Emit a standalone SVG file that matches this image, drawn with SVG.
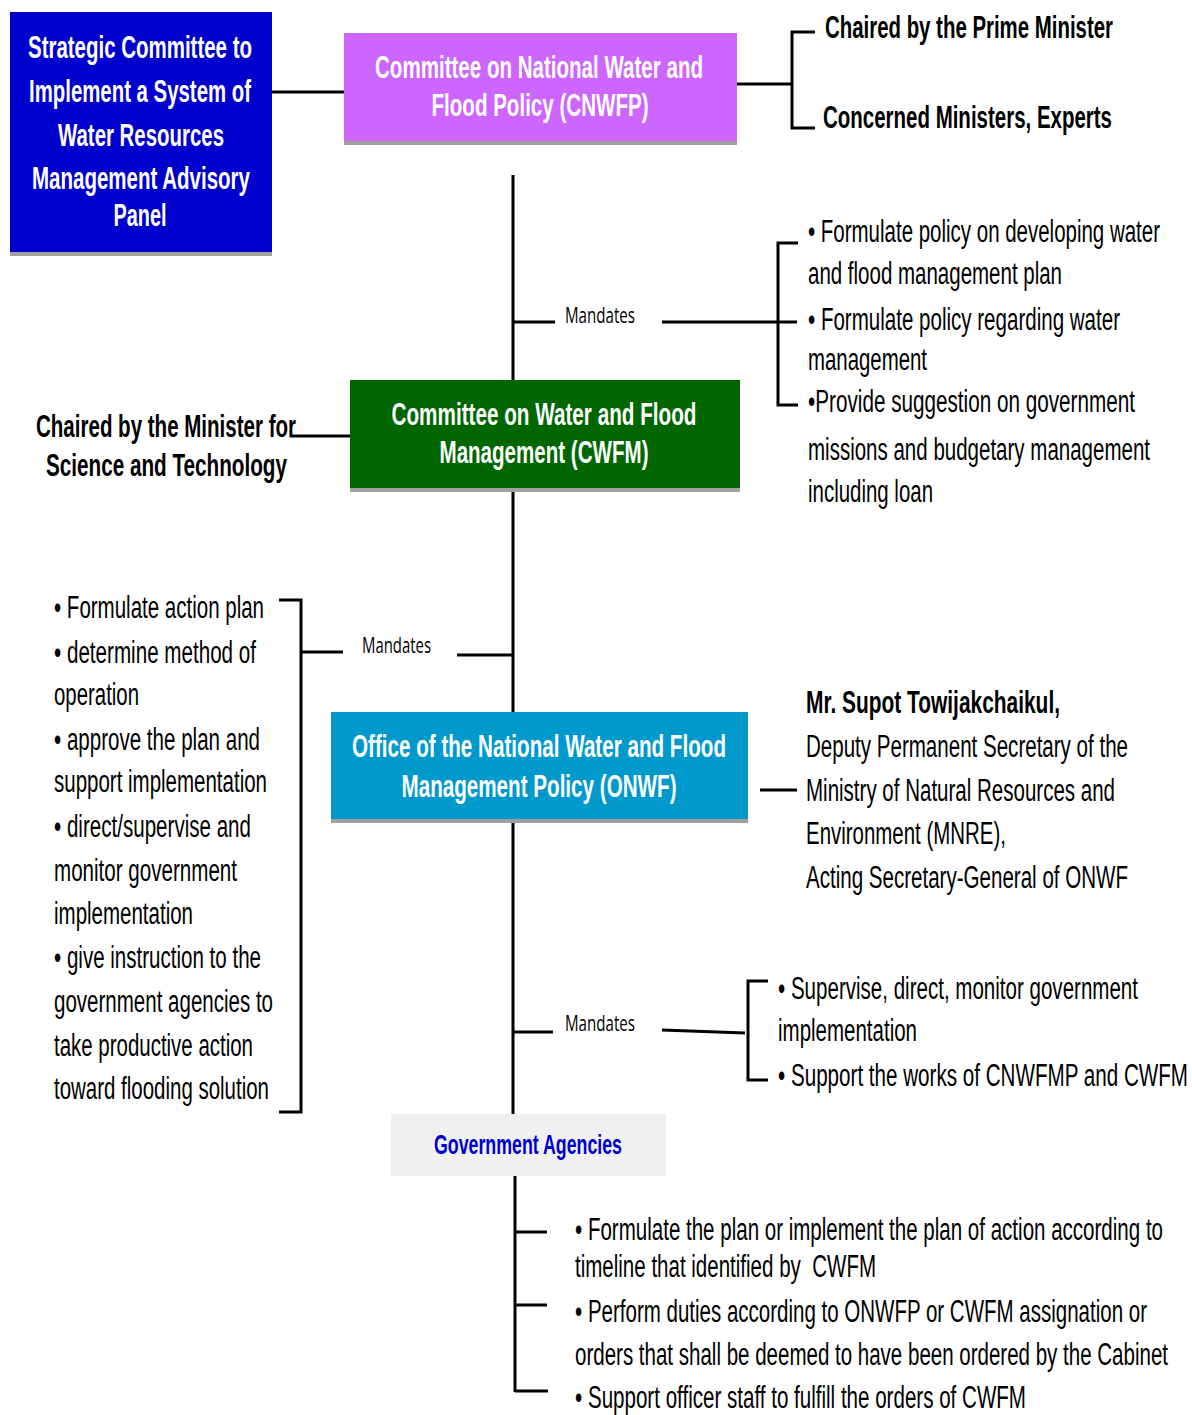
<svg xmlns="http://www.w3.org/2000/svg" width="1192" height="1415" viewBox="0 0 1192 1415">
<style>
text { font-family: "Liberation Sans Narrow", "Liberation Sans", Arial, sans-serif; white-space: pre; }
.n { font-size: 31px; fill: #000; }
.nb { font-size: 32px; fill: #000; font-weight: bold; }
.w { font-size: 32px; fill: #fff; font-weight: bold; }
.m { font-family: "Open Sans", "Liberation Sans Narrow", sans-serif; font-size: 21px; fill: #000; }
.ga { font-size: 28px; fill: #0000CC; font-weight: bold; }
.ln { stroke: #000; stroke-width: 3; fill: none; }
.sh { fill: #A0A0A0; }
</style>
<rect width="1192" height="1415" fill="#fff"/>
<g id="connectors">
  <line class="ln" x1="272" y1="92" x2="344" y2="92"/>
  <line class="ln" x1="737" y1="84" x2="792" y2="84"/>
  <polyline class="ln" points="815,32 792,32 792,128 815,128"/>
  <line class="ln" x1="513" y1="175" x2="513" y2="1114"/>
  <line class="ln" x1="513" y1="322" x2="555" y2="322"/>
  <line class="ln" x1="662" y1="322" x2="797" y2="322"/>
  <polyline class="ln" points="798,243 778,243 778,405 798,405"/>
  <line class="ln" x1="290" y1="436" x2="350" y2="436"/>
  <line class="ln" x1="457" y1="655" x2="513" y2="655"/>
  <line class="ln" x1="302" y1="652" x2="343" y2="652"/>
  <polyline class="ln" points="279,600 301,600 301,1112 279,1112"/>
  <line class="ln" x1="760" y1="790" x2="797" y2="790"/>
  <line class="ln" x1="513" y1="1032" x2="553" y2="1032"/>
  <line class="ln" x1="662" y1="1030" x2="745" y2="1033"/>
  <polyline class="ln" points="768,981 748,981 748,1080 768,1080"/>
  <line class="ln" x1="515" y1="1176" x2="515" y2="1392"/>
  <line class="ln" x1="515" y1="1232" x2="547" y2="1232"/>
  <line class="ln" x1="515" y1="1305" x2="547" y2="1305"/>
  <line class="ln" x1="515" y1="1391" x2="548" y2="1391"/>
  <text class="m" x="565" y="323" textLength="70" lengthAdjust="spacingAndGlyphs">Mandates</text>
  <text class="m" x="362" y="653" textLength="69" lengthAdjust="spacingAndGlyphs">Mandates</text>
  <text class="m" x="565" y="1031" textLength="70" lengthAdjust="spacingAndGlyphs">Mandates</text>
</g>
<g id="strategic-committee">
  <rect class="sh" x="10" y="250" width="262" height="6"/>
  <rect x="10" y="12" width="262" height="240" fill="#0000CC"/>
  <text class="w" x="140" y="58" text-anchor="middle" textLength="224" lengthAdjust="spacingAndGlyphs">Strategic Committee to</text>
  <text class="w" x="140" y="102" text-anchor="middle" textLength="222" lengthAdjust="spacingAndGlyphs">Implement a System of</text>
  <text class="w" x="141" y="146" text-anchor="middle" textLength="166" lengthAdjust="spacingAndGlyphs">Water Resources</text>
  <text class="w" x="141" y="189" text-anchor="middle" textLength="218" lengthAdjust="spacingAndGlyphs">Management Advisory</text>
  <text class="w" x="140" y="226" text-anchor="middle" textLength="53" lengthAdjust="spacingAndGlyphs">Panel</text>
</g>
<g id="cnwfp">
  <rect class="sh" x="344" y="139" width="393" height="6"/>
  <rect x="344" y="33" width="393" height="108" fill="#CC66FF"/>
  <text class="w" x="539" y="78" text-anchor="middle" textLength="328" lengthAdjust="spacingAndGlyphs">Committee on National Water and</text>
  <text class="w" x="540" y="116" text-anchor="middle" textLength="217" lengthAdjust="spacingAndGlyphs">Flood Policy (CNWFP)</text>
</g>
<g id="cnwfp-chair">
  <text class="nb" x="825" y="38" textLength="288" lengthAdjust="spacingAndGlyphs">Chaired by the Prime Minister</text>
  <text class="nb" x="823" y="128" textLength="289" lengthAdjust="spacingAndGlyphs">Concerned Ministers, Experts</text>
</g>
<g id="cnwfp-mandates">
  <text class="n" x="808" y="242" textLength="352" lengthAdjust="spacingAndGlyphs">• Formulate policy on developing water</text>
  <text class="n" x="808" y="284" textLength="254" lengthAdjust="spacingAndGlyphs">and flood management plan</text>
  <text class="n" x="808" y="330" textLength="312" lengthAdjust="spacingAndGlyphs">• Formulate policy regarding water</text>
  <text class="n" x="808" y="370" textLength="119" lengthAdjust="spacingAndGlyphs">management</text>
  <text class="n" x="808" y="412" textLength="327" lengthAdjust="spacingAndGlyphs">•Provide suggestion on government</text>
  <text class="n" x="808" y="460" textLength="342" lengthAdjust="spacingAndGlyphs">missions and budgetary management</text>
  <text class="n" x="808" y="502" textLength="125" lengthAdjust="spacingAndGlyphs">including loan</text>
</g>
<g id="cwfm">
  <rect class="sh" x="350" y="486" width="390" height="6"/>
  <rect x="350" y="380" width="390" height="108" fill="#006600"/>
  <text class="w" x="544" y="425" text-anchor="middle" textLength="305" lengthAdjust="spacingAndGlyphs">Committee on Water and Flood</text>
  <text class="w" x="544" y="463" text-anchor="middle" textLength="209" lengthAdjust="spacingAndGlyphs">Management (CWFM)</text>
</g>
<g id="cwfm-chair">
  <text class="nb" x="36" y="437" textLength="260" lengthAdjust="spacingAndGlyphs">Chaired by the Minister for</text>
  <text class="nb" x="46" y="476" textLength="241" lengthAdjust="spacingAndGlyphs">Science and Technology</text>
</g>
<g id="cwfm-mandates">
  <text class="n" x="54" y="618" textLength="210" lengthAdjust="spacingAndGlyphs">• Formulate action plan</text>
  <text class="n" x="54" y="663" textLength="202" lengthAdjust="spacingAndGlyphs">• determine method of</text>
  <text class="n" x="54" y="705" textLength="85" lengthAdjust="spacingAndGlyphs">operation</text>
  <text class="n" x="54" y="750" textLength="206" lengthAdjust="spacingAndGlyphs">• approve the plan and</text>
  <text class="n" x="54" y="792" textLength="213" lengthAdjust="spacingAndGlyphs">support implementation</text>
  <text class="n" x="54" y="837" textLength="197" lengthAdjust="spacingAndGlyphs">• direct/supervise and</text>
  <text class="n" x="54" y="881" textLength="183" lengthAdjust="spacingAndGlyphs">monitor government</text>
  <text class="n" x="54" y="924" textLength="139" lengthAdjust="spacingAndGlyphs">implementation</text>
  <text class="n" x="54" y="968" textLength="207" lengthAdjust="spacingAndGlyphs">• give instruction to the</text>
  <text class="n" x="54" y="1012" textLength="219" lengthAdjust="spacingAndGlyphs">government agencies to</text>
  <text class="n" x="54" y="1056" textLength="199" lengthAdjust="spacingAndGlyphs">take productive action</text>
  <text class="n" x="54" y="1099" textLength="215" lengthAdjust="spacingAndGlyphs">toward flooding solution</text>
</g>
<g id="onwf">
  <rect class="sh" x="331" y="817" width="417" height="6"/>
  <rect x="331" y="712" width="417" height="107" fill="#0099CC"/>
  <text class="w" x="539" y="757" text-anchor="middle" textLength="374" lengthAdjust="spacingAndGlyphs">Office of the National Water and Flood</text>
  <text class="w" x="539" y="797" text-anchor="middle" textLength="275" lengthAdjust="spacingAndGlyphs">Management Policy (ONWF)</text>
</g>
<g id="onwf-head">
  <text class="nb" x="806" y="713" textLength="254" lengthAdjust="spacingAndGlyphs">Mr. Supot Towijakchaikul,</text>
  <text class="n" x="806" y="757" textLength="322" lengthAdjust="spacingAndGlyphs">Deputy Permanent Secretary of the</text>
  <text class="n" x="806" y="801" textLength="309" lengthAdjust="spacingAndGlyphs">Ministry of Natural Resources and</text>
  <text class="n" x="806" y="844" textLength="200" lengthAdjust="spacingAndGlyphs">Environment (MNRE),</text>
  <text class="n" x="806" y="888" textLength="322" lengthAdjust="spacingAndGlyphs">Acting Secretary-General of ONWF</text>
</g>
<g id="onwf-mandates">
  <text class="n" x="778" y="999" textLength="360" lengthAdjust="spacingAndGlyphs">• Supervise, direct, monitor government</text>
  <text class="n" x="778" y="1041" textLength="139" lengthAdjust="spacingAndGlyphs">implementation</text>
  <text class="n" x="778" y="1086" textLength="410" lengthAdjust="spacingAndGlyphs">• Support the works of CNWFMP and CWFM</text>
</g>
<g id="government-agencies">
  <rect x="391" y="1114" width="275" height="62" fill="#F0F0F0"/>
  <text class="ga" x="528" y="1154" text-anchor="middle" textLength="188" lengthAdjust="spacingAndGlyphs">Government Agencies</text>
</g>
<g id="agency-duties">
  <text class="n" x="575" y="1240" textLength="588" lengthAdjust="spacingAndGlyphs">• Formulate the plan or implement the plan of action according to</text>
  <text class="n" x="575" y="1277" textLength="301" lengthAdjust="spacingAndGlyphs">timeline that identified by  CWFM</text>
  <text class="n" x="575" y="1322" textLength="572" lengthAdjust="spacingAndGlyphs">• Perform duties according to ONWFP or CWFM assignation or</text>
  <text class="n" x="575" y="1365" textLength="593" lengthAdjust="spacingAndGlyphs">orders that shall be deemed to have been ordered by the Cabinet</text>
  <text class="n" x="575" y="1408" textLength="451" lengthAdjust="spacingAndGlyphs">• Support officer staff to fulfill the orders of CWFM</text>
</g>
</svg>
